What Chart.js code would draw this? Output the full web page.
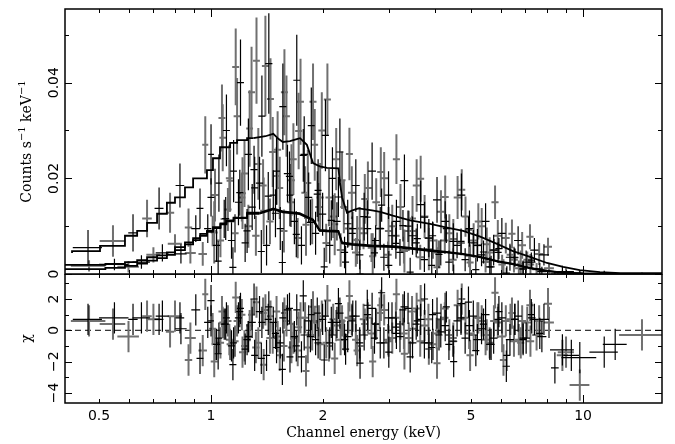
<!DOCTYPE html>
<html><head><meta charset="utf-8">
<script src="https://cdn.jsdelivr.net/npm/chart.js@4/dist/chart.umd.min.js"></script>
<style>
html,body{margin:0;padding:0;background:#fff;}
#wrap{position:relative;width:675px;height:444px;background:#fff;}
#c1{position:absolute;left:0;top:0;}
#c2{position:absolute;left:0;top:274px;}
</style></head><body>
<div id="wrap"><canvas id="c1" width="675" height="290"></canvas><canvas id="c2" width="675" height="170"></canvas></div>
<script>
// ---------- axes ----------
const X_MIN = 0.405, X_MAX = 16.3;
const TOP_Y_MIN = 0, TOP_Y_MAX = 0.0554;
const RES_Y_MIN = -4.65, RES_Y_MAX = 3.6;
const xMinorTicks = [0.5,0.6,0.7,0.8,0.9,2,3,4,5,6,7,8,9];
const xMajorTicks = [1,10];
const xTickLabels = ['0.5','1','2','5','10'];
const xTickValues = [0.5,1,2,5,10];
const topYMajor = [0,0.02,0.04], topYMinor = [0.01,0.03,0.05];
const topYLabels = ['0','0.02','0.04'];
const resYMajor = [-4,-2,0,2], resYMinor = [-3,-1,1,3];
const resYLabels = ['\u22124','\u22122','0','2'];
const CHI_ERR = 1;

// ---------- upper spectrum, black ----------
const ubE = [0.467,0.617,0.725,0.825,0.934,1.00,1.05,1.10,1.15,1.20, 1.26,1.31,1.37,1.43,1.50,1.56,1.63,1.70,1.78,1.86, 1.94,2.03,2.12,2.22,2.33,2.45,2.58,2.71,2.85,3.00, 3.15,3.31,3.48,3.66,3.85,4.05,4.26,4.48,4.71,4.95, 5.20,5.47,5.75,6.05,6.36,6.69,7.03,7.40,7.85,8.8, 9.8,11.4];
const ubW = [0.042,0.018,0.02,0.022,0.02,0.018,0.022,0.024,0.024,0.026, 0.028,0.028,0.03,0.032,0.032,0.034,0.035,0.036,0.04,0.04, 0.042,0.044,0.046,0.05,0.055,0.06,0.063,0.066,0.07,0.074, 0.077,0.08,0.085,0.09,0.095,0.1,0.105,0.11,0.115,0.12, 0.13,0.135,0.14,0.15,0.16,0.165,0.17,0.19,0.25,0.65, 1.05,1.0];
const ubV = [0.0055,0.0086,0.0137,0.0185,0.0137,0.0250,0.0190,0.0300,0.0215,0.0400, 0.0250,0.0180,0.0330,0.0440,0.0215,0.0350,0.0165,0.0405,0.0250,0.0310, 0.0175,0.0290,0.0200,0.0255,0.0105,0.0185,0.0120,0.0215,0.0095,0.0165, 0.0110,0.0195,0.0080,0.0145,0.0075,0.0155,0.0110,0.0068,0.0165,0.0095, 0.0060,0.0110,0.0050,0.0085,0.0035,0.0070,0.0025,0.0050,0.0040,0.0005, 0.0000,0.0001];
const ubErr = [0.0037,0.0039,0.0044,0.0046,0.0042,0.0063,0.0060,0.0075,0.0065,0.0090, 0.0075,0.0065,0.0085,0.0105,0.0070,0.0090,0.0065,0.0095,0.0080,0.0080, 0.0065,0.0075,0.0065,0.0070,0.0050,0.0055,0.0050,0.0060,0.0045,0.0050, 0.0045,0.0055,0.0040,0.0050,0.0040,0.0048,0.0042,0.0038,0.0045,0.0038, 0.0034,0.0038,0.0032,0.0032,0.0028,0.0030,0.0024,0.0025,0.0022,0.0012, 0.0008,0.0006];
const ubChi = [0.7,0.7,0.7,0.8,-1.8,0.6,-0.5,0.8,-0.8,1.4, -0.4,-1.6,0.5,1.5,-1.1,0.8,-1.7,1.3,-0.3,1.0, -0.8,0.9,-0.3,1.1,-0.4,0.9,-0.3,1.4,-0.8,0.8, -0.2,1.5,-0.8,0.7,-0.8,1.1,0.3,-0.7,1.7,0.3, -0.6,1.0,-0.5,0.8,-0.6,0.9,-0.5,0.7,0.7,-1.25, -1.75,-1.4];

// ---------- upper spectrum, grey ----------
const ugE = [0.545,0.673,0.776,0.87,0.965,1.025,1.075,1.125,1.175,1.23, 1.285,1.34,1.40,1.465,1.53,1.595,1.665,1.74,1.82,1.90, 1.985,2.075,2.17,2.275,2.39,2.51,2.64,2.78,2.92,3.07, 3.23,3.40,3.57,3.75,3.95,4.15,4.37,4.60,4.83,5.08, 5.34,5.61,5.90,6.20,6.52,6.86,7.22,7.62,8.05,9.0, 14.4];
const ugW = [0.043,0.02,0.02,0.02,0.018,0.022,0.022,0.024,0.025,0.026, 0.028,0.028,0.03,0.032,0.033,0.034,0.035,0.037,0.04,0.04, 0.042,0.044,0.046,0.05,0.055,0.06,0.063,0.066,0.07,0.074, 0.077,0.08,0.085,0.09,0.095,0.1,0.105,0.11,0.115,0.12, 0.13,0.135,0.14,0.15,0.16,0.165,0.17,0.19,0.2,0.45, 1.9];
const ugV = [0.0069,0.0116,0.0128,0.0097,0.0270,0.0165,0.0285,0.0195,0.0330,0.0210, 0.0380,0.0230,0.0435,0.0255,0.0180,0.0330,0.0240,0.0360,0.0190,0.0270, 0.0300,0.0160,0.0240,0.0140,0.0170,0.0095,0.0180,0.0150,0.0200,0.0100, 0.0140,0.0090,0.0185,0.0120,0.0070,0.0130,0.0085,0.0160,0.0120,0.0070, 0.0100,0.0045,0.0080,0.0075,0.0030,0.0060,0.0020,0.0042,0.0057,0.0002, 0.0000];
const ugErr = [0.0033,0.0039,0.0042,0.0040,0.0060,0.0055,0.0070,0.0065,0.0080,0.0070, 0.0095,0.0075,0.0105,0.0073,0.0065,0.0085,0.0075,0.0090,0.0070,0.0075, 0.0080,0.0060,0.0065,0.0055,0.0055,0.0045,0.0055,0.0050,0.0055,0.0045, 0.0048,0.0042,0.0055,0.0045,0.0038,0.0045,0.0040,0.0045,0.0042,0.0036, 0.0038,0.0032,0.0033,0.0032,0.0027,0.0028,0.0022,0.0023,0.0019,0.0010, 0.0003];
const ugChi = [0.4,0.9,-0.1,-1.9,2.3,-0.9,0.5,-0.9,0.6,-1.0, 1.0,-0.8,1.3,-0.5,-1.6,0.6,-0.5,0.8,-1.1,0.5, 0.9,-1.0,0.3,-0.3,0.7,-1.0,0.8,0.4,1.3,-0.5, 0.4,-0.5,1.4,0.3,-0.9,0.7,-0.3,1.6,0.8,-0.3, 0.6,-0.8,0.5,0.6,-0.7,0.6,-0.7,0.6,1.7,-1.4, -0.3];

// ---------- upper spectrum, grey (second set) ----------
const ucE = [1.02,1.07,1.12,1.165,1.215,1.27,1.325,1.385,1.445,1.51, 1.575,1.645,1.72,1.80,1.88,1.965,2.055,2.15,2.25,2.355, 2.47,2.59,2.72,2.86,3.0,3.15,3.31,3.48,3.66,3.85, 4.05,4.26,4.48,4.72,4.97,5.23,5.51,5.80,6.11,6.44, 6.8,7.2];
const ucW = [0.022,0.023,0.024,0.025,0.026,0.027,0.028,0.03,0.031,0.033, 0.034,0.036,0.037,0.039,0.041,0.043,0.045,0.047,0.049,0.051, 0.054,0.057,0.06,0.063,0.066,0.069,0.073,0.076,0.08,0.085, 0.089,0.094,0.099,0.104,0.11,0.115,0.121,0.128,0.135,0.142, 0.15,0.16];
const ucV = [0.0087,0.0326,0.0200,0.0433,0.0169,0.0304,0.0446,0.0132,0.0366,0.0260, 0.0380,0.0196,0.0299,0.0103,0.0360,0.0160,0.0365,0.0104,0.0196,0.0251, 0.0071,0.0157,0.0037,0.0213,0.0090,0.0240,0.0048,0.0116,0.0199,0.0052, 0.0014,0.0161,0.0073,0.0176,0.0024,0.0110,0.0062,0.0150,0.0000,0.0084, 0.0021,0.0078];
const ucErr = [0.0065,0.0070,0.0070,0.0080,0.0075,0.0080,0.0090,0.0070,0.0085,0.0080, 0.0090,0.0075,0.0080,0.0065,0.0080,0.0072,0.0075,0.0065,0.0060,0.0055, 0.0050,0.0052,0.0048,0.0052,0.0050,0.0052,0.0045,0.0047,0.0048,0.0044, 0.0042,0.0045,0.0042,0.0043,0.0038,0.0038,0.0035,0.0035,0.0031,0.0030, 0.0028,0.0026];
const ucChi = [-2.0,1.2,-0.6,2.1,-1.4,0.3,1.8,-2.2,0.9,-0.4, 1.1,-1.1,0.2,-2.6,1.5,-0.9,1.9,-1.8,0.6,2.2, -1.3,0.4,-2.0,1.6,-0.7,2.3,-1.5,0.1,1.9,-1.2, -2.1,1.4,-0.5,2.0,-1.6,0.8,-0.3,2.4,-1.9,1.1, -0.8,1.6];

// ---------- lower spectrum, grey ----------
const lgE = [0.47,0.60,0.70,0.80,0.88,0.95,1.01,1.06,1.11,1.16, 1.21,1.26,1.32,1.38,1.44,1.50,1.57,1.64,1.71,1.79, 1.87,1.95,2.04,2.13,2.23,2.34,2.45,2.57,2.70,2.84, 2.99,3.14,3.30,3.47,3.65,3.84,4.04,4.25,4.47,4.70, 4.94,5.20,5.47,5.76,6.06,6.38,6.72,7.08,7.50,8.1, 8.8,9.8];
const lgW = [0.05,0.04,0.03,0.035,0.03,0.025,0.022,0.024,0.025,0.026, 0.027,0.028,0.03,0.031,0.032,0.034,0.035,0.037,0.039,0.041, 0.043,0.045,0.047,0.049,0.052,0.054,0.057,0.06,0.063,0.066, 0.069,0.073,0.077,0.08,0.085,0.09,0.094,0.1,0.104,0.11, 0.115,0.12,0.127,0.134,0.14,0.15,0.156,0.165,0.2,0.25, 0.3,0.6];
const lgV = [0.0017,0.0015,0.0040,0.0063,0.0044,0.0042,0.0090,0.0070,0.0135,0.0085, 0.0160,0.0100,0.0080,0.0185,0.0110,0.0205,0.0090,0.0150,0.0075,0.0170, 0.0110,0.0140,0.0065,0.0120,0.0050,0.0095,0.0045,0.0085,0.0055,0.0095, 0.0040,0.0080,0.0050,0.0090,0.0035,0.0075,0.0045,0.0070,0.0030,0.0065, 0.0038,0.0060,0.0025,0.0050,0.0020,0.0040,0.0012,0.0030,0.0010,0.0012, 0.0000,0.0000];
const lgErr = [0.0012,0.0012,0.0016,0.0020,0.0022,0.0025,0.0032,0.0035,0.0045,0.0040, 0.0050,0.0045,0.0042,0.0055,0.0048,0.0060,0.0045,0.0052,0.0042,0.0055, 0.0048,0.0050,0.0040,0.0045,0.0035,0.0038,0.0030,0.0033,0.0030,0.0034, 0.0028,0.0030,0.0028,0.0032,0.0026,0.0030,0.0027,0.0028,0.0024,0.0026, 0.0024,0.0025,0.0022,0.0023,0.0020,0.0020,0.0016,0.0017,0.0013,0.0011, 0.0007,0.0005];
const lgChi = [0.6,-0.4,0.7,0.9,-0.5,-1.3,0.1,-0.8,0.6,-0.7, 1.0,-0.4,-1.1,1.1,-0.5,1.2,-1.0,0.4,-1.3,0.8, -0.3,0.6,-0.8,0.7,-0.6,0.8,-0.6,0.7,-0.2,1.1, -0.6,0.8,-0.2,1.2,-0.7,0.7,-0.2,0.8,-0.7,0.7, -0.2,0.8,-0.6,0.6,-0.4,0.7,-0.6,0.5,-0.3,0.5, -1.6,-3.5];

// ---------- lower spectrum, black ----------
const lbE = [0.55,0.65,0.74,0.83,0.91,0.98,1.035,1.085,1.135,1.185, 1.235,1.29,1.35,1.41,1.47,1.535,1.605,1.675,1.75,1.83, 1.91,1.995,2.085,2.18,2.285,2.395,2.51,2.635,2.77,2.915, 3.065,3.22,3.385,3.56,3.745,3.94,4.145,4.36,4.585,4.82, 5.07,5.335,5.615,5.91,6.22,6.55,6.9,7.28,7.75,8.4, 9.3,12.2];
const lbW = [0.05,0.035,0.03,0.03,0.025,0.022,0.023,0.024,0.025,0.026, 0.027,0.029,0.03,0.031,0.033,0.034,0.036,0.037,0.039,0.041, 0.043,0.045,0.047,0.049,0.051,0.054,0.057,0.06,0.063,0.066, 0.069,0.072,0.076,0.08,0.084,0.088,0.093,0.098,0.103,0.108, 0.114,0.12,0.126,0.133,0.14,0.147,0.155,0.17,0.22,0.2, 0.45,0.9];
const lbV = [0.0020,0.0025,0.0044,0.0042,0.0095,0.0095,0.0060,0.0115,0.0070,0.0150, 0.0065,0.0140,0.0190,0.0060,0.0165,0.0095,0.0210,0.0110,0.0060,0.0160, 0.0085,0.0125,0.0060,0.0110,0.0045,0.0085,0.0040,0.0095,0.0070,0.0035, 0.0080,0.0045,0.0100,0.0065,0.0030,0.0080,0.0045,0.0025,0.0060,0.0030, 0.0065,0.0040,0.0015,0.0045,0.0002,0.0035,0.0010,0.0025,0.0005,0.0000, 0.0000,0.0000];
const lbErr = [0.0012,0.0014,0.0018,0.0020,0.0028,0.0030,0.0035,0.0040,0.0038,0.0048, 0.0040,0.0048,0.0055,0.0042,0.0052,0.0045,0.0060,0.0048,0.0040,0.0052, 0.0045,0.0045,0.0038,0.0040,0.0033,0.0035,0.0030,0.0034,0.0032,0.0028, 0.0030,0.0028,0.0033,0.0030,0.0026,0.0030,0.0027,0.0024,0.0027,0.0024, 0.0027,0.0024,0.0020,0.0022,0.0011,0.0019,0.0015,0.0014,0.0010,0.0006, 0.0004,0.0004];
const lbChi = [0.8,0.8,0.9,0.1,1.3,0.5,-0.9,0.4,-1.0,0.8, -1.2,0.5,1.2,-1.6,0.5,-0.8,1.3,-0.4,-1.7,0.6, -0.6,0.7,-0.8,0.5,-0.6,0.6,-0.8,1.0,0.4,-0.8, 0.8,-0.4,1.4,0.4,-0.8,1.0,-0.1,-0.9,0.6,-0.5, 0.9,0.1,-0.9,0.7,-2.3,0.7,-0.5,0.8,-0.4,-2.4, -1.6,-0.9];

// ---------- lower spectrum, black (second set) ----------
const lcE = [1.0,1.045,1.095,1.145,1.195,1.25,1.305,1.365,1.425,1.49, 1.555,1.625,1.695,1.77,1.85,1.93,2.015,2.105,2.2,2.3, 2.405,2.515,2.63,2.75,2.875,3.005,3.14,3.28,3.43,3.585, 3.75,3.92,4.1,4.29,4.49,4.7,4.92,5.15,5.4,5.66, 5.94,6.24,6.56,6.9,7.26,7.65];
const lcW = [0.022,0.023,0.024,0.025,0.026,0.028,0.029,0.03,0.031,0.033, 0.034,0.036,0.037,0.039,0.041,0.042,0.044,0.046,0.048,0.05, 0.053,0.055,0.058,0.06,0.063,0.066,0.069,0.072,0.075,0.079, 0.082,0.086,0.09,0.094,0.099,0.103,0.108,0.113,0.119,0.125, 0.131,0.137,0.144,0.152,0.16,0.17];
const lcV = [0.0160,0.0027,0.0116,0.0014,0.0170,0.0090,0.0218,0.0047,0.0163,0.0127, 0.0024,0.0204,0.0083,0.0248,0.0108,0.0167,0.0015,0.0112,0.0161,0.0025, 0.0095,0.0000,0.0119,0.0044,0.0144,0.0018,0.0064,0.0101,0.0004,0.0074, 0.0119,0.0018,0.0041,0.0095,-0.0006,0.0068,0.0092,0.0009,0.0046,0.0015, 0.0053,-0.0002,0.0034,0.0011,0.0029,0.0010];
const lcErr = [0.0040,0.0042,0.0045,0.0042,0.0048,0.0046,0.0050,0.0045,0.0050,0.0050, 0.0045,0.0052,0.0048,0.0055,0.0048,0.0048,0.0040,0.0042,0.0042,0.0034, 0.0035,0.0030,0.0035,0.0032,0.0035,0.0030,0.0032,0.0033,0.0030,0.0031, 0.0032,0.0029,0.0029,0.0030,0.0026,0.0027,0.0028,0.0025,0.0024,0.0023, 0.0022,0.0018,0.0019,0.0017,0.0016,0.0013];
const lcChi = [1.9,-1.5,0.4,-2.2,1.2,-0.6,2.0,-1.8,0.7,-0.2, -2.5,1.4,-1.0,2.2,-0.4,1.1,-1.9,0.5,1.7,-1.2, 0.9,-2.1,1.6,-0.5,2.4,-1.4,0.2,1.3,-1.7,0.6, 2.0,-1.1,-0.3,1.5,-2.0,0.8,1.8,-1.3,0.4,-0.9, 1.2,-1.6,0.7,-0.6,1.0,-0.2];

// ---------- models ----------
const uModelE = [0.423,0.503,0.587,0.633,0.673,0.716,0.761,0.80,0.851,0.895, 0.975,1.012,1.057,1.125,1.175,1.25,1.30,1.40,1.47,1.52, 1.56,1.63,1.70,1.735,1.81,1.88,1.96,2.05,2.2,2.22, 2.25,2.32,2.40,2.49,2.71,2.85,3.08,3.43,3.88,4.31, 4.76,5.29,5.87,6.48,7.2,8.0,8.84,9.8,11.1,12.6, 16.8];
const uModelV = [0.0044,0.0048,0.0059,0.0080,0.0090,0.0107,0.0126,0.0149,0.0160,0.0181, 0.0200,0.0217,0.0242,0.0265,0.0274,0.0280,0.0284,0.0288,0.0293,0.0282, 0.0276,0.0278,0.0282,0.0284,0.0270,0.0232,0.0225,0.0222,0.0221,0.0192, 0.0160,0.0128,0.0133,0.0137,0.0133,0.0130,0.0122,0.0112,0.0105,0.0097, 0.0090,0.0078,0.0063,0.0048,0.0036,0.0023,0.0015,0.0008,0.0004,0.0002, 0.0002];
const lModelE = [0.405,0.52,0.587,0.633,0.673,0.716,0.761,0.80,0.851,0.895, 0.935,0.975,1.012,1.06,1.10,1.15,1.25,1.35,1.47,1.56, 1.73,1.88,1.96,2.05,2.2,2.25,2.4,2.7,3.1,3.4, 3.9,4.3,4.76,5.3,5.9,6.5,7.2,8.0,8.8,10, 12,16.8];
const lgModelV = [0.0017,0.0019,0.0021,0.0025,0.0029,0.0035,0.0039,0.0045,0.0056,0.0066, 0.0075,0.0084,0.0090,0.0098,0.0106,0.0112,0.0118,0.0128,0.0137,0.0131, 0.0127,0.0114,0.0092,0.0091,0.0090,0.0066,0.0063,0.0060,0.0058,0.0055, 0.0050,0.0046,0.0042,0.0036,0.0027,0.0021,0.0013,0.0007,0.0003,0.0001, 0.0,0.0];
const lbModelV = [0.0008,0.0010,0.0013,0.0017,0.0022,0.0028,0.0033,0.0040,0.0050,0.0062, 0.0071,0.0080,0.0088,0.0096,0.0104,0.0110,0.0117,0.0126,0.0135,0.0129, 0.0125,0.0112,0.0090,0.0089,0.0088,0.0064,0.0061,0.0058,0.0056,0.0053, 0.0048,0.0045,0.0041,0.0035,0.0026,0.0020,0.0012,0.0006,0.0003,0.0001, 0.0,0.0];
const STEP_LIMIT = 1.3;

// ---------- styles ----------
const BLACK = '#000000', GREY = '#707070';

function barSets(E, W, V, ERR, color, width, order) {
  const vert = [], hor = [];
  E.forEach((e, i) => {
    const err = Array.isArray(ERR) ? ERR[i] : ERR;
    vert.push({x: e, y: V[i] - err}, {x: e, y: V[i] + err}, {x: e, y: null});
    hor.push({x: e - W[i], y: V[i]}, {x: e + W[i], y: V[i]}, {x: e, y: null});
  });
  const base = {borderColor: color, backgroundColor: color, borderWidth: width, pointRadius: 0,
    pointHoverRadius: 0, fill: false, tension: 0, spanGaps: false, order};
  return [Object.assign({data: vert}, base), Object.assign({data: hor}, base)];
}
function modelSets(E, V) {
  const k = E.findIndex(e => e >= STEP_LIMIT);
  const step = [], smooth = [];
  E.forEach((e, i) => { if (i <= k) step.push({x: e, y: V[i]}); if (i >= k) smooth.push({x: e, y: V[i]}); });
  const base = {borderColor: BLACK, borderWidth: 1.8, pointRadius: 0, fill: false, tension: 0, order: 0};
  return [Object.assign({data: step, stepped: 'after'}, base), Object.assign({data: smooth}, base)];
}

const topDatasets = [
  ...modelSets(uModelE, uModelV),
  ...modelSets(lModelE, lgModelV),
  ...modelSets(lModelE, lbModelV),
  ...barSets(ubE, ubW, ubV, ubErr, BLACK, 1.2, 1),
  ...barSets(lbE, lbW, lbV, lbErr, BLACK, 1.2, 1),
  ...barSets(lcE, lcW, lcV, lcErr, BLACK, 1.2, 1),
  ...barSets(ugE, ugW, ugV, ugErr, GREY, 2, 2),
  ...barSets(ucE, ucW, ucV, ucErr, GREY, 2, 2),
  ...barSets(lgE, lgW, lgV, lgErr, GREY, 2, 2),
];
const resDatasets = [
  ...barSets(ubE, ubW, ubChi, CHI_ERR, BLACK, 1.2, 1),
  ...barSets(lbE, lbW, lbChi, CHI_ERR, BLACK, 1.2, 1),
  ...barSets(lcE, lcW, lcChi, CHI_ERR, BLACK, 1.2, 1),
  ...barSets(ugE, ugW, ugChi, CHI_ERR, GREY, 2, 2),
  ...barSets(ucE, ucW, ucChi, CHI_ERR, GREY, 2, 2),
  ...barSets(lgE, lgW, lgChi, CHI_ERR, GREY, 2, 2),
  {data: [{x: X_MIN, y: 0}, {x: X_MAX, y: 0}], borderColor: BLACK, borderWidth: 1, borderDash: [6, 4],
   pointRadius: 0, fill: false, order: 3},
];

const NUM_FONT = '14px "DejaVu Sans"';
const TITLE_FONT = '14px "DejaVu Serif"';
const SUP_FONT = '10px "DejaVu Serif"';

function drawRich(ctx, parts, x, y) {
  let total = 0;
  parts.forEach(p => { ctx.font = p.sup ? SUP_FONT : TITLE_FONT; p.w = ctx.measureText(p.t).width; total += p.w; });
  ctx.save(); ctx.translate(x, y); ctx.rotate(-Math.PI / 2);
  ctx.textAlign = 'left'; ctx.textBaseline = 'alphabetic';
  let cx = -total / 2;
  parts.forEach(p => { ctx.font = p.sup ? SUP_FONT : TITLE_FONT; ctx.fillText(p.t, cx, p.sup ? -6 : 0); cx += p.w; });
  ctx.restore();
}

const framePlugin = {
  id: 'frame',
  afterDatasetsDraw(chart, args, o) {
    const {ctx, chartArea: a} = chart;
    const xs = chart.scales.x, ys = chart.scales.y;
    ctx.save();
    ctx.strokeStyle = BLACK; ctx.fillStyle = BLACK; ctx.lineWidth = 1;
    ctx.beginPath();
    const tx = (v, len) => { const p = Math.round(xs.getPixelForValue(v)) + 0.5;
      ctx.moveTo(p, a.top); ctx.lineTo(p, a.top + len); ctx.moveTo(p, a.bottom); ctx.lineTo(p, a.bottom - len); };
    const ty = (v, len) => { const p = Math.round(ys.getPixelForValue(v)) + 0.5;
      ctx.moveTo(a.left, p); ctx.lineTo(a.left + len, p); ctx.moveTo(a.right, p); ctx.lineTo(a.right - len, p); };
    xMinorTicks.forEach(v => tx(v, 4)); xMajorTicks.forEach(v => tx(v, 8));
    o.yMinor.forEach(v => ty(v, 4)); o.yMajor.forEach(v => ty(v, 7));
    ctx.stroke();
    ctx.lineWidth = 1.5;
    ctx.strokeRect(a.left, a.top, a.right - a.left, a.bottom - a.top);
    ctx.font = NUM_FONT; ctx.textAlign = 'center'; ctx.textBaseline = 'alphabetic';
    o.yMajor.forEach((v, i) => {
      const p = ys.getPixelForValue(v);
      ctx.save(); ctx.translate(57.5, p); ctx.rotate(-Math.PI / 2); ctx.fillText(o.yLabels[i], 0, 0); ctx.restore();
    });
    drawRich(ctx, o.yTitle, 31, (a.top + a.bottom) / 2);
    if (o.xAxis) {
      ctx.font = NUM_FONT; ctx.textAlign = 'center';
      xTickValues.forEach((v, i) => ctx.fillText(xTickLabels[i], xs.getPixelForValue(v), a.bottom + 17));
      ctx.font = TITLE_FONT;
      ctx.fillText('Channel energy (keV)', (a.left + a.right) / 2, a.bottom + 34);
    }
    ctx.restore();
  }
};

function makeChart(id, datasets, yMin, yMax, padBottom, padTop, frameOpts) {
  return new Chart(document.getElementById(id), {
    type: 'line',
    data: {datasets},
    options: {
      responsive: false, animation: false, devicePixelRatio: 1,
      layout: {padding: {left: 65, right: 13, top: padTop, bottom: padBottom}},
      plugins: {legend: {display: false}, tooltip: {enabled: false}, frame: frameOpts},
      events: [],
      scales: {
        x: {type: 'logarithmic', min: X_MIN, max: X_MAX, display: false},
        y: {type: 'linear', min: yMin, max: yMax, display: false}
      }
    },
    plugins: [framePlugin]
  });
}

makeChart('c1', topDatasets, TOP_Y_MIN, TOP_Y_MAX, 16, 9, {
  yMajor: topYMajor, yMinor: topYMinor, yLabels: topYLabels,
  yTitle: [{t: 'Counts s'}, {t: '\u22121', sup: true}, {t: ' keV'}, {t: '\u22121', sup: true}], xAxis: false});
makeChart('c2', resDatasets, RES_Y_MIN, RES_Y_MAX, 41, 0, {
  yMajor: resYMajor, yMinor: resYMinor, yLabels: resYLabels,
  yTitle: [{t: '\u03c7'}], xAxis: true});
</script>
</body></html>
